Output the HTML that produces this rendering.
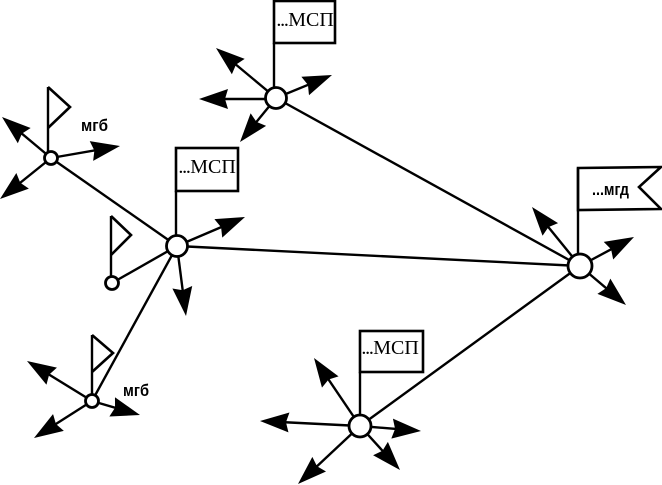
<!DOCTYPE html>
<html>
<head>
<meta charset="utf-8">
<style>
html,body{margin:0;padding:0;background:#fff;}
svg{display:block;}
.l{stroke:#000;stroke-width:2.4;fill:none;}
.a{stroke:#000;stroke-width:2.4;fill:none;marker-end:url(#h);stroke-dasharray:90 100;}
.n{stroke:#000;stroke-width:2.8;fill:#fff;}
.f{stroke:#000;stroke-width:2.6;fill:#fff;}
.s{font-family:"Liberation Serif",serif;font-size:20px;fill:#000;}
.s .d{font-size:15px;font-weight:bold;}
.b{font-family:"Liberation Sans","Noto Sans CJK SC",sans-serif;font-size:17px;font-weight:bold;fill:#000;}
</style>
</head>
<body>
<svg width="662" height="485" viewBox="0 0 662 485" xmlns="http://www.w3.org/2000/svg">
<defs>
<marker id="h" markerUnits="userSpaceOnUse" markerWidth="34" markerHeight="24" refX="29" refY="11" orient="auto">
<polygon points="0,1 29,11 0,21 3,11" fill="#000"/>
</marker>
</defs>

<!-- connections -->
<line class="l" x1="276" y1="98" x2="580" y2="266"/>
<line class="l" x1="177" y1="246" x2="580" y2="266"/>
<line class="l" x1="360" y1="426" x2="580" y2="266"/>
<line class="l" x1="51" y1="158" x2="177" y2="246"/>
<line class="l" x1="112" y1="283" x2="177" y2="246"/>
<line class="l" x1="92" y1="401" x2="177" y2="246"/>

<!-- node A -->
<line class="a" pathLength="100" x1="276" y1="98" x2="216" y2="48"/>
<line class="a" pathLength="100" x1="276" y1="99" x2="199" y2="99"/>
<line class="a" pathLength="100" x1="276" y1="98" x2="240" y2="142"/>
<line class="a" pathLength="100" x1="276" y1="98" x2="332" y2="75"/>
<rect class="f" x="274" y="1" width="61" height="42"/>
<line class="l" x1="274" y1="98" x2="274" y2="43"/>
<text class="s" x="277" y="26"><tspan class="d">...</tspan>МСП</text>
<circle class="n" cx="276" cy="98" r="10.5"/>

<!-- node B -->
<line class="a" pathLength="100" x1="177" y1="246" x2="245" y2="217"/>
<line class="a" pathLength="100" x1="177" y1="246" x2="186" y2="316"/>
<rect class="f" x="176" y="148" width="62" height="43"/>
<line class="l" x1="176" y1="246" x2="176" y2="191"/>
<text class="s" x="179" y="173"><tspan class="d">...</tspan>МСП</text>
<circle class="n" cx="177" cy="246" r="10.5"/>

<!-- node C -->
<line class="a" pathLength="100" x1="51" y1="158" x2="2" y2="117"/>
<line class="a" pathLength="100" x1="51" y1="158" x2="0" y2="199"/>
<line class="a" pathLength="100" x1="51" y1="158" x2="120" y2="146"/>
<polyline class="f" points="48,87 70,107 48,128"/>
<line class="l" x1="48" y1="158" x2="48" y2="87"/>
<text class="b" x="81" y="131" textLength="27" lengthAdjust="spacingAndGlyphs">мгб</text>
<circle class="n" cx="51" cy="158" r="6.5"/>

<!-- node D -->
<polyline class="f" points="111,216 131,235 111,255"/>
<line class="l" x1="111" y1="283" x2="111" y2="216"/>
<circle class="n" cx="112" cy="283" r="6.5"/>

<!-- node G -->
<line class="a" pathLength="100" x1="92" y1="401" x2="27" y2="361"/>
<line class="a" pathLength="100" x1="92" y1="401" x2="34" y2="438"/>
<line class="a" pathLength="100" x1="92" y1="401" x2="140" y2="415"/>
<polyline class="f" points="92,335 113,353 92,372"/>
<line class="l" x1="92" y1="401" x2="92" y2="335"/>
<text class="b" x="123" y="396" textLength="26" lengthAdjust="spacingAndGlyphs">мгб</text>
<circle class="n" cx="92" cy="401" r="6.5"/>

<!-- node E -->
<line class="a" pathLength="100" x1="580" y1="266" x2="532" y2="207"/>
<line class="a" pathLength="100" x1="580" y1="266" x2="634" y2="237"/>
<line class="a" pathLength="100" x1="580" y1="266" x2="626" y2="305"/>
<polygon class="f" points="578,168 661,167 639,187 661,209 578,210"/>
<line class="l" x1="578" y1="266" x2="578" y2="168"/>
<text class="b" x="592" y="195" textLength="37" lengthAdjust="spacingAndGlyphs">...мгд</text>
<circle class="n" cx="580" cy="266" r="12"/>

<!-- node F -->
<line class="a" pathLength="100" x1="360" y1="426" x2="314" y2="358"/>
<line class="a" pathLength="100" x1="360" y1="426" x2="260" y2="421"/>
<line class="a" pathLength="100" x1="360" y1="426" x2="298" y2="484"/>
<line class="a" pathLength="100" x1="360" y1="426" x2="400" y2="470"/>
<line class="a" pathLength="100" x1="360" y1="426" x2="421" y2="431"/>
<rect class="f" x="360" y="331" width="63" height="41"/>
<line class="l" x1="360" y1="426" x2="360" y2="372"/>
<text class="s" x="362" y="354"><tspan class="d">...</tspan>МСП</text>
<circle class="n" cx="360" cy="426" r="11"/>
</svg>
</body>
</html>
